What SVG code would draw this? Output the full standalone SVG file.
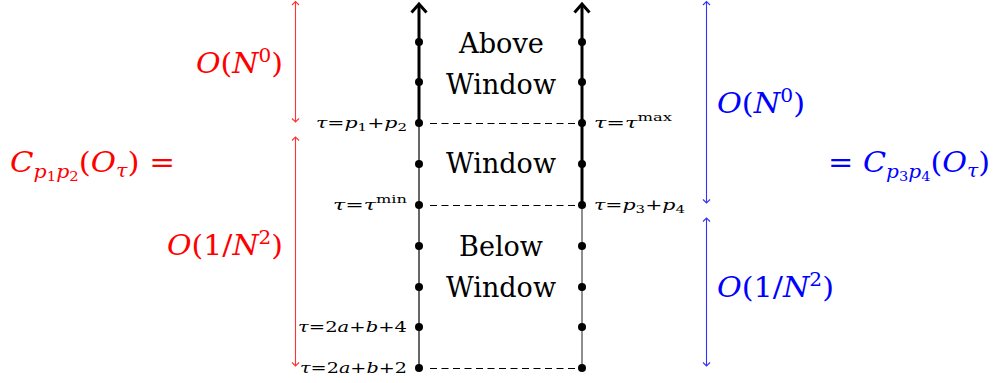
<svg xmlns="http://www.w3.org/2000/svg" width="994" height="383" viewBox="0 0 994 383">
<style>
.t{font-family:"DejaVu Serif","Liberation Serif",serif;fill:#000}
.big{font-size:27px}
.lbl{font-size:15px}
.math{font-size:27px}
.red{fill:#ff0000}
.blue{fill:#0000ff}
.it{font-style:italic}
.thick{stroke:#000;stroke-width:3;fill:none}
.thin{stroke:#000;stroke-width:1.2;fill:none}
.dash{stroke:#000;stroke-width:1;stroke-dasharray:7 4.5;fill:none}
.rarr{stroke:#ff3333;stroke-width:1.1;fill:none;marker-start:url(#rh);marker-end:url(#rh)}
.barr{stroke:#3333ff;stroke-width:1.1;fill:none;marker-start:url(#bh);marker-end:url(#bh)}
</style>
<defs>
<marker id="rh" viewBox="-5 -5 10 10" markerWidth="10" markerHeight="10" refX="0" refY="0" orient="auto-start-reverse" markerUnits="userSpaceOnUse">
<path d="M-3.5,-3.5 L0,0 L-3.5,3.5" stroke="#ff3333" stroke-width="1.1" fill="none"/>
</marker>
<marker id="bh" viewBox="-5 -5 10 10" markerWidth="10" markerHeight="10" refX="0" refY="0" orient="auto-start-reverse" markerUnits="userSpaceOnUse">
<path d="M-3.5,-3.5 L0,0 L-3.5,3.5" stroke="#3333ff" stroke-width="1.1" fill="none"/>
</marker>
</defs>

<g id="connectors">
<line class="thick" x1="419" y1="123" x2="419" y2="4"/>
<path class="thick" d="M411.5,12.5 L419,4 L426.5,12.5"/>
<line class="thin" x1="419" y1="123" x2="419" y2="368"/>
<line class="thick" x1="582" y1="205" x2="582" y2="4"/>
<path class="thick" d="M574.5,12.5 L582,4 L589.5,12.5"/>
<line class="thin" x1="582" y1="205" x2="582" y2="368" style="stroke:#444"/>
<line class="dash" x1="430" y1="123.5" x2="576" y2="123.5"/>
<line class="dash" x1="430" y1="205.5" x2="576" y2="205.5"/>
<line class="dash" x1="430" y1="368.5" x2="576" y2="368.5"/>
<line class="rarr" x1="295.5" y1="1.5" x2="295.5" y2="122"/>
<line class="rarr" x1="295.5" y1="137" x2="295.5" y2="366"/>
<line class="barr" x1="706.5" y1="1.5" x2="706.5" y2="203"/>
<line class="barr" x1="706.5" y1="218" x2="706.5" y2="366"/>
</g>

<g id="left-dots" fill="#000">
<circle cx="419" cy="42" r="4"/><circle cx="419" cy="82" r="4"/><circle cx="419" cy="123" r="4"/>
<circle cx="419" cy="164" r="4"/><circle cx="419" cy="205" r="4"/><circle cx="419" cy="246" r="4"/>
<circle cx="419" cy="287" r="4"/><circle cx="419" cy="327" r="4"/><circle cx="419" cy="368" r="4"/>
</g>
<g id="right-dots" fill="#000">
<circle cx="582" cy="42" r="4"/><circle cx="582" cy="82" r="4"/><circle cx="582" cy="123" r="4"/>
<circle cx="582" cy="164" r="4"/><circle cx="582" cy="205" r="4"/><circle cx="582" cy="246" r="4"/>
<circle cx="582" cy="287" r="4"/><circle cx="582" cy="327" r="4"/><circle cx="582" cy="368" r="4"/>
</g>

<g id="above-window">
<text class="t big" x="459" y="53" textLength="85" lengthAdjust="spacingAndGlyphs">Above</text>
<text class="t big" x="446" y="94" textLength="110" lengthAdjust="spacingAndGlyphs">Window</text>
</g>
<g id="window">
<text class="t big" x="446" y="173" textLength="110" lengthAdjust="spacingAndGlyphs">Window</text>
</g>
<g id="below-window">
<text class="t big" x="459" y="256" textLength="84" lengthAdjust="spacingAndGlyphs">Below</text>
<text class="t big" x="446" y="297" textLength="110" lengthAdjust="spacingAndGlyphs">Window</text>
</g>

<g id="left-labels">
<text class="t lbl" x="316" y="128" textLength="91" lengthAdjust="spacingAndGlyphs"><tspan class="it">τ</tspan>=<tspan class="it">p</tspan><tspan font-size="11" dy="3">1</tspan><tspan dy="-3">+</tspan><tspan class="it">p</tspan><tspan font-size="11" dy="3">2</tspan></text>
<text class="t lbl" x="333" y="210" textLength="74" lengthAdjust="spacingAndGlyphs"><tspan class="it">τ</tspan>=<tspan class="it">τ</tspan><tspan font-size="11" dy="-7">min</tspan></text>
<text class="t lbl" x="298" y="332" textLength="109" lengthAdjust="spacingAndGlyphs"><tspan class="it">τ</tspan>=2<tspan class="it">a</tspan>+<tspan class="it">b</tspan>+4</text>
<text class="t lbl" x="300" y="373" textLength="107" lengthAdjust="spacingAndGlyphs"><tspan class="it">τ</tspan>=2<tspan class="it">a</tspan>+<tspan class="it">b</tspan>+2</text>
</g>
<g id="right-labels">
<text class="t lbl" x="594" y="128" textLength="78" lengthAdjust="spacingAndGlyphs"><tspan class="it">τ</tspan>=<tspan class="it">τ</tspan><tspan font-size="11" dy="-7">max</tspan></text>
<text class="t lbl" x="594" y="210" textLength="91" lengthAdjust="spacingAndGlyphs"><tspan class="it">τ</tspan>=<tspan class="it">p</tspan><tspan font-size="11" dy="3">3</tspan><tspan dy="-3">+</tspan><tspan class="it">p</tspan><tspan font-size="11" dy="3">4</tspan></text>
</g>

<g id="red-side">
<text class="t math red" x="196" y="73" textLength="87" lengthAdjust="spacingAndGlyphs"><tspan class="it">O</tspan>(<tspan class="it">N</tspan><tspan font-size="18" dy="-11">0</tspan><tspan dy="11">)</tspan></text>
<text class="t math red" x="167" y="255" textLength="116" lengthAdjust="spacingAndGlyphs"><tspan class="it">O</tspan>(1/<tspan class="it">N</tspan><tspan font-size="18" dy="-11">2</tspan><tspan dy="11">)</tspan></text>
<text class="t math red" x="10" y="172" textLength="165" lengthAdjust="spacingAndGlyphs"><tspan class="it">C</tspan><tspan class="it" font-size="18" dy="6">p</tspan><tspan font-size="13" dy="3">1</tspan><tspan class="it" font-size="18" dy="-3">p</tspan><tspan font-size="13" dy="3">2</tspan><tspan dy="-9">(</tspan><tspan class="it">O</tspan><tspan class="it" font-size="18" dy="5">τ</tspan><tspan dy="-5">) =</tspan></text>
</g>
<g id="blue-side">
<text class="t math blue" x="717" y="113" textLength="88" lengthAdjust="spacingAndGlyphs"><tspan class="it">O</tspan>(<tspan class="it">N</tspan><tspan font-size="18" dy="-11">0</tspan><tspan dy="11">)</tspan></text>
<text class="t math blue" x="717" y="297" textLength="117" lengthAdjust="spacingAndGlyphs"><tspan class="it">O</tspan>(1/<tspan class="it">N</tspan><tspan font-size="18" dy="-11">2</tspan><tspan dy="11">)</tspan></text>
<text class="t math blue" x="828" y="172" textLength="162" lengthAdjust="spacingAndGlyphs">= <tspan class="it">C</tspan><tspan class="it" font-size="18" dy="6">p</tspan><tspan font-size="13" dy="3">3</tspan><tspan class="it" font-size="18" dy="-3">p</tspan><tspan font-size="13" dy="3">4</tspan><tspan dy="-9">(</tspan><tspan class="it">O</tspan><tspan class="it" font-size="18" dy="5">τ</tspan><tspan dy="-5">)</tspan></text>
</g>
</svg>
